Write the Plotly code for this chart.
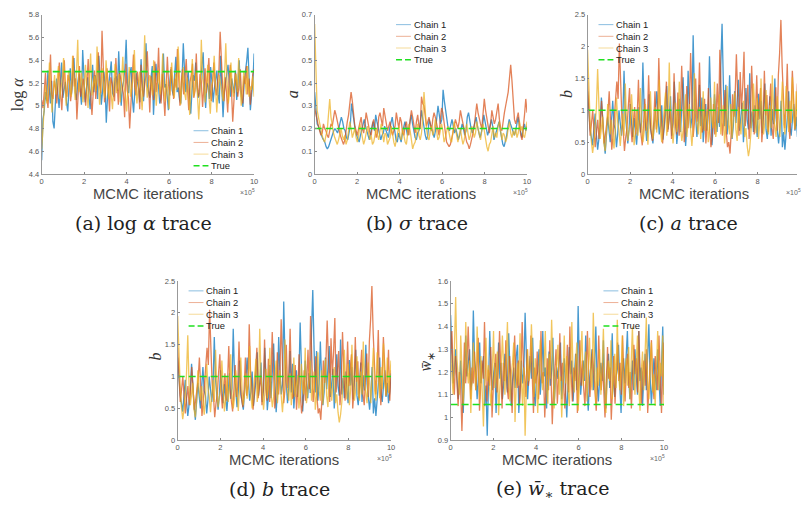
import plotly.graph_objects as go

# ---------- data ----------
chain_names = ["Chain 1", "Chain 2", "Chain 3"]
x_ticks = [0, 2, 4, 6, 8, 10]
iteration_max = 10

log_alpha_1 = [4.52,4.88,4.95,5.12,5.04,5.31,5.16,5.02,5.22,4.86,4.80,5.08,5.24,5.11,4.98,5.19,5.38,5.07,5.14,5.21,5.03,4.95,5.17,5.33,5.10,5.26,5.42,5.12,5.05,5.20,5.28,5.14,5.01,5.49,5.23,5.03,5.15,5.25,5.09,4.97,5.18,5.36,5.12,5.27,5.20,5.06,5.44,5.18,5.01,5.13,5.30,5.19,4.85,5.08,5.18,5.29,5.39,5.11,5.08,5.24,5.26,5.13,5.48,5.21,5.00,5.16,5.22,5.33,5.58,5.20,5.11,5.28,5.34,5.06,4.94,5.14,5.29,5.21,5.15,5.03,5.41,5.19,5.04,5.25,5.55,5.18,5.13,5.07,5.24,5.35,4.92,5.10,5.37,5.22,5.18,5.02,5.06,5.21,5.46,5.16,5.19,5.09,4.96,5.20,5.32,5.14,5.09,5.27,5.43,5.12,5.16,5.05,5.02,5.24,5.55,5.30,5.12,5.19,5.30,5.08,4.93,5.13,5.27,5.22,5.38,5.17,5.07,5.11,5.21,5.33,5.47,5.15,4.98,5.20,5.17,5.06,5.34,5.22,5.03,5.15,5.26,5.31,5.10,5.02,5.44,5.18,4.90,5.12,5.23,5.28,5.36,5.16,5.08,5.24,5.19,5.11,5.31,5.05,5.19,5.40,5.14,5.06,4.99,5.21,5.28,5.39,5.51,5.13,4.96,5.10,5.20,5.46]
log_alpha_2 = [5.05,4.98,5.12,5.29,5.08,4.98,5.20,5.45,5.10,5.06,5.22,5.16,5.02,5.27,5.38,5.11,4.96,5.19,5.40,5.13,5.08,5.27,5.22,5.04,5.15,5.44,5.17,5.24,4.88,5.10,5.35,5.08,5.18,5.24,5.12,5.00,5.21,5.41,5.15,5.09,4.92,5.18,5.31,5.06,5.25,5.47,5.19,5.11,5.66,5.25,5.03,5.18,5.33,5.14,4.95,5.25,5.20,5.11,5.04,5.42,5.16,5.01,5.29,5.22,5.16,5.11,4.90,5.37,5.14,5.07,4.80,5.05,5.23,5.45,5.17,5.09,5.30,5.21,4.97,5.36,5.14,5.08,5.20,5.26,5.48,5.14,4.94,5.26,5.17,5.05,5.39,5.12,5.22,5.51,5.15,5.02,5.28,5.10,4.91,5.18,5.43,5.18,5.09,5.34,5.22,5.06,5.24,5.16,5.50,5.23,5.00,5.19,5.32,5.10,5.25,5.41,5.15,4.96,5.21,5.27,5.37,5.07,5.13,5.46,5.15,5.08,5.28,5.21,4.99,5.16,5.33,5.11,5.26,5.42,5.14,5.04,5.22,5.38,5.17,5.09,5.22,5.31,5.65,5.35,5.16,5.04,5.25,5.12,4.94,5.21,5.36,5.14,4.86,5.05,5.29,5.20,5.08,5.17,5.32,5.11,5.02,5.26,5.19,5.35,5.10,5.24,5.01,5.16,5.28,5.32]
log_alpha_3 = [4.62,4.80,5.01,5.18,5.02,5.11,5.38,5.15,4.94,5.12,5.27,5.10,5.20,5.35,5.06,5.14,5.24,5.42,5.17,5.00,5.22,5.31,5.15,5.08,5.44,5.19,5.05,5.29,5.58,5.12,5.20,5.29,5.03,5.14,5.36,5.18,4.98,5.24,5.46,5.09,5.17,5.26,5.13,5.52,5.21,5.01,5.19,5.33,5.14,5.07,5.40,5.18,5.06,5.22,5.11,4.97,5.20,5.37,5.11,5.17,5.28,5.03,5.21,5.43,5.16,5.10,4.95,5.20,5.34,5.08,5.16,5.24,5.49,5.15,5.02,5.18,5.30,5.13,4.96,5.21,5.62,5.24,5.07,5.18,5.27,5.19,5.09,5.40,5.20,5.00,5.16,5.32,5.10,5.18,5.46,5.14,5.04,5.23,5.12,4.97,5.22,5.38,5.15,5.07,5.28,5.14,5.52,5.18,5.01,5.19,5.34,5.11,5.05,5.25,5.13,4.92,5.20,5.41,5.08,5.15,5.30,5.12,4.88,5.10,5.58,5.24,5.17,5.03,5.20,5.36,5.07,4.93,5.18,5.22,5.44,5.12,4.94,5.14,5.27,5.19,5.12,5.04,5.25,5.55,5.21,5.02,5.13,5.38,5.16,5.08,5.22,5.28,5.12,5.42,5.19,5.00,5.15,5.30,5.23,5.10,5.35,5.08,5.17,5.14,5.26,5.08]
log_alpha_ticks = [4.4, 4.6, 4.8, 5, 5.2, 5.4, 5.6, 5.8]
log_alpha_true = 5.3

sigma_1 = [0.36,0.27,0.22,0.21,0.19,0.18,0.16,0.15,0.14,0.12,0.11,0.12,0.14,0.15,0.17,0.19,0.20,0.19,0.18,0.20,0.22,0.25,0.23,0.20,0.19,0.16,0.15,0.18,0.21,0.31,0.26,0.22,0.19,0.17,0.15,0.14,0.17,0.19,0.22,0.24,0.21,0.19,0.16,0.15,0.18,0.20,0.23,0.19,0.26,0.23,0.20,0.18,0.15,0.17,0.18,0.21,0.19,0.17,0.16,0.20,0.22,0.25,0.21,0.19,0.15,0.14,0.18,0.16,0.14,0.18,0.21,0.23,0.20,0.17,0.20,0.24,0.26,0.22,0.18,0.16,0.15,0.18,0.19,0.22,0.28,0.24,0.20,0.17,0.15,0.17,0.24,0.22,0.20,0.18,0.16,0.19,0.25,0.30,0.26,0.22,0.24,0.37,0.32,0.28,0.24,0.20,0.19,0.22,0.24,0.21,0.18,0.20,0.17,0.15,0.17,0.19,0.22,0.20,0.17,0.19,0.25,0.27,0.23,0.20,0.18,0.20,0.23,0.25,0.21,0.19,0.16,0.18,0.21,0.26,0.23,0.19,0.17,0.19,0.22,0.24,0.21,0.15,0.17,0.19,0.20,0.23,0.19,0.16,0.13,0.12,0.14,0.17,0.21,0.24,0.22,0.20,0.18,0.17,0.19,0.23,0.25,0.21,0.18,0.16,0.20,0.22,0.19,0.21]
sigma_2 = [0.29,0.26,0.24,0.21,0.19,0.17,0.18,0.22,0.20,0.19,0.17,0.16,0.19,0.22,0.21,0.25,0.28,0.26,0.23,0.20,0.18,0.16,0.14,0.13,0.15,0.20,0.23,0.26,0.30,0.36,0.32,0.25,0.21,0.19,0.17,0.20,0.23,0.25,0.20,0.18,0.22,0.27,0.24,0.20,0.18,0.17,0.22,0.24,0.20,0.16,0.18,0.25,0.27,0.23,0.21,0.29,0.26,0.22,0.19,0.21,0.23,0.19,0.17,0.19,0.21,0.27,0.23,0.20,0.25,0.23,0.18,0.17,0.21,0.23,0.19,0.17,0.24,0.28,0.25,0.22,0.18,0.23,0.26,0.21,0.20,0.34,0.31,0.30,0.25,0.21,0.23,0.25,0.22,0.19,0.24,0.27,0.25,0.22,0.19,0.17,0.24,0.29,0.27,0.23,0.17,0.14,0.13,0.12,0.13,0.15,0.18,0.21,0.24,0.22,0.20,0.23,0.28,0.25,0.22,0.19,0.16,0.14,0.13,0.11,0.13,0.15,0.18,0.21,0.26,0.31,0.27,0.24,0.22,0.20,0.27,0.33,0.28,0.25,0.21,0.18,0.22,0.28,0.25,0.22,0.24,0.27,0.31,0.24,0.20,0.19,0.24,0.27,0.30,0.33,0.36,0.42,0.48,0.41,0.29,0.24,0.22,0.25,0.27,0.22,0.17,0.15,0.20,0.26,0.33,0.27]
sigma_3 = [0.66,0.41,0.28,0.25,0.22,0.19,0.17,0.15,0.14,0.17,0.19,0.26,0.33,0.25,0.21,0.18,0.16,0.14,0.13,0.15,0.18,0.20,0.17,0.15,0.17,0.13,0.15,0.19,0.23,0.20,0.16,0.18,0.20,0.16,0.14,0.17,0.22,0.19,0.16,0.13,0.15,0.18,0.21,0.18,0.15,0.17,0.13,0.14,0.17,0.20,0.17,0.15,0.19,0.22,0.18,0.14,0.18,0.17,0.13,0.15,0.16,0.21,0.17,0.14,0.12,0.15,0.19,0.21,0.16,0.15,0.20,0.17,0.14,0.13,0.18,0.22,0.19,0.15,0.11,0.13,0.14,0.18,0.22,0.17,0.15,0.18,0.24,0.36,0.27,0.20,0.16,0.15,0.19,0.21,0.17,0.19,0.24,0.20,0.15,0.16,0.19,0.22,0.19,0.14,0.16,0.18,0.21,0.18,0.15,0.14,0.18,0.23,0.20,0.16,0.14,0.17,0.20,0.16,0.13,0.15,0.19,0.22,0.18,0.15,0.17,0.21,0.19,0.16,0.18,0.23,0.20,0.17,0.15,0.19,0.22,0.19,0.15,0.12,0.10,0.13,0.14,0.18,0.21,0.16,0.18,0.16,0.21,0.23,0.19,0.15,0.18,0.17,0.14,0.16,0.20,0.23,0.18,0.16,0.19,0.17,0.20,0.16,0.18,0.23,0.19,0.21,0.17,0.16,0.19,0.23]
sigma_ticks = [0, 0.1, 0.2, 0.3, 0.4, 0.5, 0.6, 0.7]
sigma_true = 0.2

b_1 = [1.30,0.95,0.70,0.58,0.45,0.70,0.95,0.62,0.38,0.55,0.80,1.20,0.75,0.55,0.32,0.60,0.90,0.70,0.50,0.82,1.15,0.78,0.70,0.42,0.64,1.00,0.72,0.60,0.85,1.62,0.95,0.75,0.48,0.70,1.10,0.80,0.58,0.88,0.66,0.46,0.74,1.05,0.65,0.82,1.75,1.02,0.80,0.52,0.76,1.25,0.72,0.60,0.48,0.78,0.95,1.30,0.88,0.62,0.76,1.08,0.54,0.72,0.94,1.38,0.70,0.90,1.22,0.60,0.80,1.45,0.85,0.47,0.72,1.18,0.66,1.00,1.52,0.90,0.44,0.76,1.62,1.05,0.72,0.88,2.18,1.25,0.95,0.58,0.82,1.40,0.75,1.20,0.50,0.84,1.10,0.68,0.96,1.85,0.90,0.45,0.78,1.25,0.92,0.66,1.05,0.74,1.72,2.36,1.45,0.75,1.40,0.62,0.88,1.55,0.95,0.55,0.76,1.30,0.80,1.10,1.48,0.68,0.92,1.12,0.50,0.82,1.35,0.85,0.70,1.58,0.72,0.98,0.66,1.08,0.78,0.58,1.26,0.86,1.15,0.64,0.96,1.42,0.70,0.55,0.84,1.22,0.60,1.02,0.78,1.50,0.88,0.62,0.48,0.72,1.15,0.42,0.66,0.38,0.60,0.90,1.30,0.74,0.60,0.84,1.10,0.68,0.90,0.58,0.76,1.05]
b_2 = [1.45,1.02,0.60,0.78,1.00,0.72,0.42,0.66,0.85,0.55,0.74,1.15,0.80,0.48,0.62,0.78,0.95,1.30,0.70,0.38,0.60,0.90,1.12,1.45,1.18,2.05,1.45,0.88,0.70,0.36,0.58,0.72,1.05,1.35,0.75,0.50,0.82,1.05,0.62,0.90,1.48,0.80,0.62,0.45,0.78,1.18,0.68,0.84,1.55,0.90,0.66,0.52,0.80,1.30,0.70,0.86,1.82,1.10,0.85,0.48,0.74,1.12,1.45,0.66,0.82,1.02,0.55,0.78,1.58,0.80,0.62,1.28,0.60,0.98,1.70,1.00,0.50,0.75,1.38,0.72,1.04,1.90,1.10,0.58,0.80,1.50,0.82,1.05,1.75,0.95,0.65,0.72,1.18,0.48,0.78,1.35,0.70,0.42,0.60,1.10,0.62,0.92,1.42,0.80,1.95,1.05,0.60,0.82,1.32,0.68,0.42,0.50,0.32,0.68,1.25,0.90,1.22,1.88,1.06,0.60,1.60,1.02,1.38,1.92,0.75,1.20,1.40,0.55,0.82,1.70,1.15,0.62,0.90,1.55,0.85,1.10,1.35,0.50,0.78,1.62,0.92,1.24,0.66,1.08,1.42,0.72,0.55,0.98,1.36,0.68,1.55,1.90,2.42,1.68,1.20,0.72,1.05,1.73,0.88,0.55,1.00,1.62,1.18,0.70,0.95,1.42,0.62,1.10]
b_3 = [1.95,1.25,0.85,0.52,0.33,0.48,0.70,1.05,1.65,0.88,0.55,0.72,0.90,0.48,0.36,0.62,1.10,0.78,0.62,0.85,0.55,0.40,0.66,1.20,0.82,0.68,0.44,0.72,0.95,0.60,1.42,0.80,0.52,0.68,0.80,1.25,0.72,0.45,0.64,1.00,0.60,0.86,1.35,0.72,0.50,0.66,1.10,0.70,0.46,0.82,1.30,0.78,0.55,0.74,1.05,0.65,0.90,1.48,0.70,0.50,0.74,0.92,1.28,0.60,0.82,1.75,0.98,0.80,0.48,0.72,1.12,0.66,0.88,1.45,0.72,0.52,0.68,0.95,1.25,0.58,0.80,1.10,0.70,0.44,0.72,1.58,0.96,0.76,0.62,1.05,0.55,0.80,1.30,0.68,0.90,1.02,0.50,0.70,1.20,0.82,0.72,1.45,0.58,0.76,0.94,1.25,0.62,0.84,1.08,0.48,0.72,1.38,0.78,0.62,1.10,0.56,0.86,1.28,0.70,0.52,1.05,0.80,0.62,0.94,1.15,0.58,0.72,0.44,0.28,0.40,0.60,0.92,1.42,0.88,0.64,1.20,0.55,0.80,1.50,0.90,0.62,0.80,1.32,0.74,0.62,1.08,0.72,1.55,0.90,0.74,0.58,1.22,0.86,0.58,1.05,1.45,0.78,0.62,1.38,0.96,0.66,1.15,0.80,1.52,0.92,0.70,1.30,0.74,0.98,1.25]
b_ticks = [0, 0.5, 1, 1.5, 2, 2.5]
b_true = 1

w_1 = [1.45,1.26,1.15,1.22,1.30,1.18,1.08,1.15,1.25,1.13,1.02,1.20,1.36,1.18,1.24,1.30,1.12,1.16,1.47,1.25,1.20,1.08,1.18,1.33,1.15,1.22,1.27,1.05,1.14,0.92,1.12,1.38,1.21,1.12,1.19,1.24,1.02,1.17,1.33,1.17,1.24,1.08,1.15,1.28,1.20,1.11,1.37,1.21,1.05,1.16,1.22,1.13,1.27,1.32,1.02,1.12,1.25,1.15,1.20,1.46,1.24,1.08,1.19,1.27,1.17,1.35,1.13,1.05,1.18,1.20,1.30,1.10,1.19,1.38,1.18,1.22,1.04,1.14,1.29,1.14,1.21,1.35,1.06,1.16,1.22,1.17,1.26,1.33,1.08,1.19,1.26,1.12,1.00,1.15,1.31,1.19,1.25,1.07,1.17,1.28,1.12,1.49,1.22,1.10,1.18,1.25,1.16,1.36,1.13,1.03,1.17,1.22,1.30,1.12,1.21,1.40,1.17,1.07,1.16,1.24,1.16,1.34,1.11,1.04,1.20,1.28,1.13,1.22,1.37,1.15,1.09,1.18,1.21,1.32,1.14,1.02,1.20,1.26,1.15,1.26,1.38,1.18,1.08,1.16,1.25,1.12,1.30,1.19,1.10,1.38,1.16,1.22,1.05,1.18,1.28,1.12,1.24,1.41,1.18,1.06,1.15,1.26,1.19,1.12,1.30,1.20,1.05,1.22,1.40,1.10]
w_2 = [1.24,1.38,1.20,1.10,1.27,1.15,1.05,1.20,1.13,0.94,1.12,1.33,1.15,1.24,1.40,1.19,1.08,1.22,1.15,1.29,1.12,1.21,1.35,1.03,1.14,1.25,1.17,1.42,1.19,1.07,1.21,1.14,1.31,1.00,1.13,1.19,1.28,1.11,1.21,1.38,1.15,1.04,1.24,1.16,1.34,1.13,1.08,1.27,1.17,1.02,1.20,1.36,1.18,1.13,1.25,1.06,1.18,1.42,1.23,1.18,1.09,1.30,1.14,1.21,1.36,1.14,1.02,1.22,1.15,1.29,1.08,1.18,1.38,1.15,1.20,1.00,1.14,1.26,1.12,1.34,1.18,0.97,1.13,1.20,1.30,1.06,1.17,1.37,1.16,1.24,1.11,1.04,1.18,1.32,1.11,1.40,1.19,1.07,1.22,1.16,1.28,1.02,1.17,1.34,1.14,1.25,1.13,1.05,1.20,1.38,1.18,1.09,1.21,1.30,1.20,1.12,1.03,1.16,1.36,1.18,1.12,1.24,1.10,1.00,1.15,1.31,1.17,1.22,0.99,1.13,1.27,1.06,1.20,1.33,1.16,1.24,1.10,1.36,1.18,1.07,1.22,1.28,1.13,1.20,1.04,1.15,1.32,1.19,1.26,1.11,1.38,1.17,1.06,1.20,1.25,1.14,1.30,1.02,1.15,1.22,1.34,1.16,1.08,1.27,1.19,1.12,1.36,1.14,1.02,1.20,1.33]
w_3 = [1.28,1.18,1.10,1.30,1.53,1.26,1.18,1.10,1.36,1.20,1.06,1.16,1.42,1.22,1.15,1.25,1.02,1.17,1.33,1.20,1.12,1.40,1.20,1.08,1.27,1.14,0.96,1.16,1.35,1.16,1.23,1.12,1.05,1.20,1.38,1.13,1.19,1.29,1.01,1.13,1.21,1.36,1.18,1.10,1.26,1.42,1.17,1.07,1.19,1.24,1.33,0.98,1.15,1.24,1.14,1.37,1.17,1.05,1.22,0.92,1.13,1.30,1.16,1.22,1.41,1.19,1.09,1.26,1.15,1.02,1.20,1.34,1.20,1.12,1.22,1.38,1.13,1.06,1.28,1.17,1.43,1.20,1.04,1.16,1.23,1.32,1.10,1.18,1.00,1.15,1.36,1.15,1.27,1.12,1.05,1.21,1.42,1.19,1.11,1.24,1.33,1.03,1.14,1.24,1.38,1.14,1.22,1.29,1.07,1.19,1.35,1.18,1.12,1.46,1.20,1.06,1.22,1.14,1.30,1.10,1.22,1.39,1.15,1.02,1.18,1.25,1.16,1.34,1.08,1.21,1.28,1.13,1.43,1.19,1.12,1.20,1.36,1.05,1.19,1.26,1.14,1.31,1.08,1.22,1.40,1.17,1.10,1.24,1.36,1.14,1.03,1.20,1.29,1.12,1.25,1.44,1.16,1.08,1.22,1.33,1.11,1.19,1.05,1.26,1.38,1.12,1.24,1.18,1.36,1.05]
w_ticks = [0.9, 1, 1.1, 1.2, 1.3, 1.4, 1.5, 1.6]
w_true = 1.057

# ---------- styling and layout ----------
COLORS = ["#0072BD", "#D95319", "#EDB120"]
TRUE_COLOR = "#1FE01F"
W, H = 801, 512
SANS = "Liberation Sans"
SERIF = "DejaVu Serif"

panels = [
    dict(ch=[log_alpha_1, log_alpha_2, log_alpha_3], true=log_alpha_true, ticks=log_alpha_ticks,
         yr=[4.4, 5.8], box=(40, 254, 11, 173), ylab="log <i>α</i>", ylx=17, yly=92,
         cap="(a) log <i>α</i> trace", capx=143, capy=223, leg=(193, 129)),
    dict(ch=[sigma_1, sigma_2, sigma_3], true=sigma_true, ticks=sigma_ticks,
         yr=[0, 0.7], box=(315, 529, 11, 173), ylab="<i>a</i>", ylx=293, yly=92,
         cap="(b) <i>σ</i> trace", capx=418, capy=223, leg=(397, 21)),
    dict(ch=[b_1, b_2, b_3], true=b_true, ticks=b_ticks,
         yr=[0, 2.5], box=(590, 804, 11, 173), ylab="<i>b</i>", ylx=569, yly=92,
         cap="(c) <i>a</i> trace", capx=692, capy=223, leg=(601, 21)),
    dict(ch=[b_1, b_2, b_3], true=b_true, ticks=b_ticks,
         yr=[0, 2.5], box=(177, 392, 282, 444), ylab="<i>b</i>", ylx=155, yly=359,
         cap="(d) <i>b</i> trace", capx=280, capy=494, leg=(188, 292)),
    dict(ch=[w_1, w_2, w_3], true=w_true, ticks=w_ticks,
         yr=[0.9, 1.6], box=(452, 667, 282, 444), ylab="<i>w̄</i><sub>∗</sub>", ylx=428, yly=364,
         cap="(e) <i>w̄</i><sub>∗</sub> trace", capx=555, capy=494, leg=(606, 292)),
]

px = lambda v: v / W
py = lambda v: 1 - v / H

fig = go.Figure()
annotations, shapes = [], []
layout = {}

for n, p in enumerate(panels, start=1):
    suffix = "" if n == 1 else str(n)
    x0, x1, y0, y1 = p["box"]
    xmax = iteration_max
    right = x1
    if x1 > W:  # the rightmost panel is cut by the page edge
        xmax = iteration_max * (W - x0) / (x1 - x0)
        right = W
    layout["xaxis" + suffix] = dict(
        domain=[px(x0), px(right)], range=[0, xmax], anchor="y" + suffix,
        tickvals=x_ticks, ticktext=[str(t) for t in x_ticks], ticks="inside", ticklen=2, tickwidth=0.6,
        tickcolor="#888", showgrid=False, zeroline=False, showline=True, linecolor="#999", linewidth=0.8,
        tickfont=dict(family=SANS, size=7.5, color="#555"), ticklabelstandoff=0,
    )
    layout["yaxis" + suffix] = dict(
        domain=[py(y1), py(y0)], range=p["yr"], anchor="x" + suffix,
        tickvals=p["ticks"], ticktext=[f"{t:g}" for t in p["ticks"]], ticks="inside", ticklen=2, tickwidth=0.6,
        tickcolor="#888", showgrid=False, zeroline=False, showline=True, linecolor="#999", linewidth=0.8,
        tickfont=dict(family=SANS, size=7.5, color="#555"),
    )
    for name, series, color in zip(chain_names, p["ch"], COLORS):
        fig.add_trace(go.Scatter(
            x=[i * iteration_max / (len(series) - 1) for i in range(len(series))], y=series,
            mode="lines", name=name, line=dict(color=color, width=1.3), opacity=0.72,
            xaxis="x" + suffix, yaxis="y" + suffix, showlegend=False,
        ))
    fig.add_trace(go.Scatter(
        x=[0, iteration_max], y=[p["true"], p["true"]], mode="lines", name="True",
        line=dict(color=TRUE_COLOR, width=1.6, dash="7px,4px"),
        xaxis="x" + suffix, yaxis="y" + suffix, showlegend=False,
    ))
    cx = (x0 + x1) / 2
    annotations += [
        dict(text="MCMC iterations", x=px(cx), y=py(y1 + 20), xref="paper", yref="paper", showarrow=False,
             xanchor="center", yanchor="middle", font=dict(family=SANS, size=14.8, color="#444")),
        dict(text="×10<sup>5</sup>", x=px(x1 - 16), y=py(y1 + 18), xref="paper", yref="paper", showarrow=False,
             xanchor="left", yanchor="middle", font=dict(family=SANS, size=7, color="#666")),
        dict(text=p["ylab"], x=px(p["ylx"]), y=py(p["yly"]), xref="paper", yref="paper", showarrow=False,
             textangle=-90, xanchor="center", yanchor="middle", font=dict(family="Liberation Serif", size=16, color="#333")),
        dict(text=p["cap"], x=px(p["capx"]), y=py(p["capy"]), xref="paper", yref="paper", showarrow=False,
             xanchor="center", yanchor="middle", font=dict(family=SERIF, size=19, color="#222")),
    ]
    # legend drawn at MATLAB's compact size
    lx, ly = p["leg"]
    for k, (name, color) in enumerate(zip(chain_names + ["True"], COLORS + [TRUE_COLOR])):
        yy = ly + k * 11.9
        is_true = name == "True"
        shapes.append(dict(type="line", xref="paper", yref="paper", x0=px(lx), x1=px(lx + 15),
                           y0=py(yy), y1=py(yy), opacity=1 if is_true else 0.45,
                           line=dict(color=color, width=1.6 if is_true else 1, dash="6px,3px" if is_true else "solid")))
        annotations.append(dict(text=name, x=px(lx + 16), y=py(yy), xref="paper", yref="paper", showarrow=False,
                                xanchor="left", yanchor="middle",
                                font=dict(family=SANS, size=9.4, color="#222")))

fig.update_layout(
    width=W, height=H, margin=dict(l=0, r=0, t=0, b=0), showlegend=False,
    paper_bgcolor="white", plot_bgcolor="white", annotations=annotations, shapes=shapes, **layout,
)
fig.write_html("out.html", config={"displayModeBar": False}, post_script="document.body.style.margin='0';")
